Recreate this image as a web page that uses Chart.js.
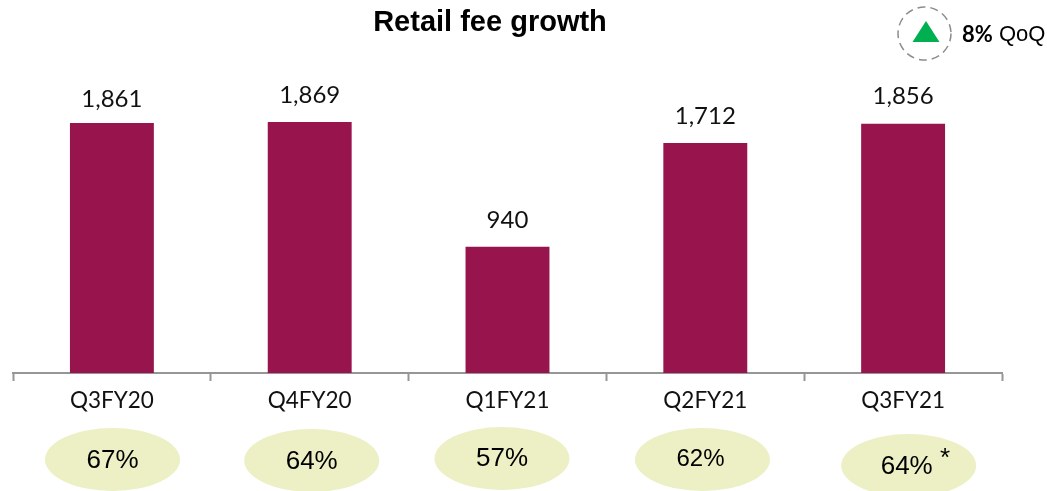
<!DOCTYPE html>
<html>
<head>
<meta charset="utf-8">
<style>html,body{margin:0;padding:0;background:#fff}canvas{display:block}</style>
<script src="https://cdn.jsdelivr.net/npm/chart.js@4"></script>
</head>
<body>
<canvas id="c" width="1047" height="491"></canvas>
<script>
const categories = ["Q3FY20","Q4FY20","Q1FY21","Q2FY21","Q3FY21"];
const retailFees = [1861,1869,940,1712,1856];
const sharePct = ["67%","64%","57%","62%","64%"];
const titleText = "Retail fee growth";
const growthValue = "8%";
const growthUnit = "QoQ";

const SANS = '"Liberation Sans", Arial, sans-serif';
const CAL = 'Lato, sans-serif';
const labelLift = [24,27,26,27,27];
const ovals = [
  {dx:0.6,cy:459.5,size:26,tx:0,ty:1.5},{dx:2,cy:460.5,size:26,tx:0,ty:1.5},{dx:-5.5,cy:458.5,size:26,tx:0,ty:0.5},
  {dx:-2.8,cy:459.5,size:24,tx:-2,ty:0},{dx:5.6,cy:465.5,size:26,tx:-2,ty:1}
];
const overlay = {
  id:'overlay',
  afterDraw(chart){
    const {ctx,scales:{x}} = chart;
    ctx.save();
    ctx.textAlign='center'; ctx.textBaseline='middle'; ctx.fillStyle='#000';
    ctx.font='bold 29px '+SANS;
    ctx.fillText(titleText,490,23);

    const meta = chart.getDatasetMeta(0);
    ctx.font='24px '+CAL; ctx.fillStyle='#111';
    meta.data.forEach((b,i)=>{
      ctx.fillText(retailFees[i].toLocaleString('en-US'),b.x,b.y-labelLift[i]);
    });

    categories.forEach((c,i)=>{
      const o=ovals[i], cx=x.getPixelForValue(i)+o.dx;
      ctx.fillStyle='#ecf0c4';
      ctx.beginPath(); ctx.ellipse(cx,o.cy,67.5,31.5,0,0,Math.PI*2); ctx.fill();
      ctx.fillStyle='#000'; ctx.font=o.size+'px '+SANS;
      ctx.fillText(sharePct[i],cx+o.tx,o.cy+o.ty);
    });
    ctx.font='26px '+SANS;
    ctx.fillText('*',945,459);

    ctx.strokeStyle='#8c8c8c'; ctx.lineWidth=1.5; ctx.setLineDash([8,5]);
    ctx.beginPath(); ctx.arc(924.5,33.5,26.5,0,Math.PI*2); ctx.stroke();
    ctx.setLineDash([]);
    ctx.fillStyle='#00b050';
    ctx.beginPath(); ctx.moveTo(926,21); ctx.lineTo(939.5,42); ctx.lineTo(912.5,42); ctx.closePath(); ctx.fill();

    ctx.fillStyle='#000'; ctx.textAlign='left';
    ctx.font='bold 22px '+CAL;
    ctx.fillText(growthValue,962,35);
    ctx.font='22px '+SANS;
    ctx.fillText(growthUnit,999,35);
    ctx.restore();
  }
};
new Chart(document.getElementById('c'),{
  type:'bar',
  data:{labels:categories,datasets:[{data:retailFees,backgroundColor:'#97154c',barPercentage:84/198,categoryPercentage:1}]},
  options:{
    responsive:false,animation:false,
    layout:{padding:{left:13,right:45,top:104.4,bottom:0}},
    plugins:{legend:{display:false},tooltip:{enabled:false}},
    scales:{
      y:{display:false,min:0,max:2000},
      x:{
        afterFit(s){s.height=118;},
        border:{display:true,color:'#969696',width:2},
        grid:{display:true,offset:true,drawOnChartArea:false,drawTicks:true,tickLength:8,tickColor:'#969696',tickWidth:2},
        ticks:{color:'#111',font:{family:'Lato',size:22.5},padding:6,maxRotation:0}
      }
    }
  },
  plugins:[overlay]
});
</script>
</body>
</html>
